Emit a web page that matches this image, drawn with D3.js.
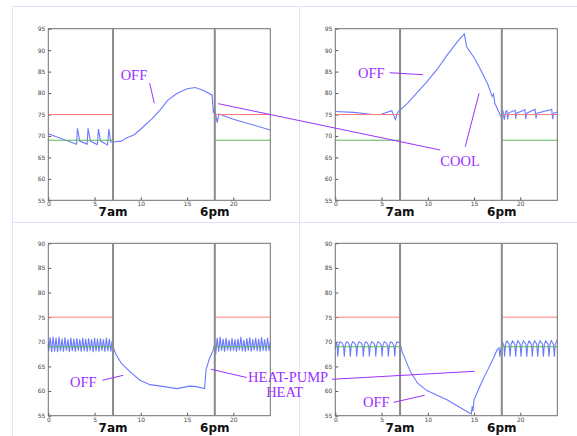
<!DOCTYPE html>
<html>
<head>
<meta charset="utf-8">
<style>
    body { margin: 0; background: #fff; }
    svg { display: block; }
    .tick text { font-family: 'DejaVu Sans', sans-serif; font-size: 6px; fill: #444; }
    .tick line { stroke: #555; }
    .domain { display: none; }
    .frame { fill: none; stroke: #707070; stroke-width: 1; }
    .page-edge { stroke: #e2e2fb; stroke-width: 1; }
    .hour-mark { stroke: #8a8a8a; stroke-width: 2; }
    .hour-label { font-family: 'DejaVu Sans', sans-serif; font-weight: bold; font-size: 12px; fill: #111; text-anchor: middle; }
    .note { font-family: 'Liberation Serif', 'Times New Roman', serif; font-size: 14.5px; fill: #9b30ff; }
    .pointer { stroke: #9b30ff; stroke-width: 1; }
    .temp { fill: none; stroke: #6b7bff; stroke-width: 1.1; }
</style>
</head>
<body>
<svg width="577" height="436"></svg>
<script src="https://d3js.org/d3.v7.min.js"></script>
<script>
    // axis ticks and markers
    let hourTicks = [0, 5, 10, 15, 20];
    let coolTicks = [55, 60, 65, 70, 75, 80, 85, 90, 95];
    let heatTicks = [55, 60, 65, 70, 75, 80, 85, 90];
    let markHours = [7, 18];
    let markLabels = ["7am", "6pm"];
    let homeSpans = [[0, 7], [18, 24]];
    let coolSetpoint = 75; // red
    let heatSetpoint = 69; // green

    // indoor temperature, [hour, degF]
    let tempA = [
        [0, 70.5], [3.05, 68.05], [3.15, 71.8], [3.4, 68.8], [4.2, 68.1], [4.3, 71.8], [4.55, 68.8],
        [5.3, 68.0], [5.42, 71.6], [5.65, 68.8], [6.4, 67.9], [6.55, 71.6], [6.75, 68.6], [7, 68.6],
        [7.9, 68.8], [8.5, 69.6], [9.3, 70.3], [10.3, 72.2], [11.2, 74.0], [12.1, 76.1], [12.9, 78.3],
        [13.9, 79.9], [15, 81.0], [15.9, 81.3], [16.8, 80.6], [17.7, 79.5], [17.85, 75.3], [17.95, 76.3],
        [18.05, 75.6], [18.25, 73.1], [18.45, 75.1], [20, 73.9], [24, 71.4]
    ];
    let tempB = [
        [0, 75.7], [2, 75.5], [3.8, 75.05], [4.9, 75.0], [6.1, 75.9], [6.5, 73.8], [6.65, 75.0], [6.8, 75.6],
        [7, 76.0], [7.8, 77.6], [8.6, 79.5], [9.9, 82.6], [11, 85.5], [12.1, 88.9], [13.4, 92.5],
        [13.95, 93.8], [14.2, 90.8], [15, 88.3], [15.7, 85.5], [16.5, 82.0], [16.95, 79.2], [17.1, 79.8],
        [17.25, 77.6], [17.95, 74.3], [18.1, 76.0], [18.27, 73.8], [18.4, 75.6], [18.55, 75.9],
        [18.63, 73.9], [18.75, 75.4], [19.45, 76.0], [19.5, 74.0], [19.6, 75.3], [20.5, 76.1],
        [20.58, 74.0], [20.7, 75.3], [21.6, 76.2], [21.7, 74.1], [21.8, 75.3], [23.4, 76.2],
        [23.5, 73.9], [23.6, 75.3], [24, 75.6]
    ];
    let tempC = [
        [0, 69.6], [0.04, 68.1], [0.2, 70.9], [0.36, 67.9], [0.52, 71.0], [0.68, 68.0], [0.84, 70.8],
        [1.0, 67.9], [1.16, 71.0], [1.32, 68.1], [1.48, 70.6], [1.64, 68.0], [1.8, 70.9], [1.96, 68.2],
        [2.12, 70.5], [2.28, 67.9], [2.44, 70.8], [2.6, 68.1], [2.76, 70.6], [2.92, 68.0], [3.08, 70.7],
        [3.24, 68.2], [3.4, 70.5], [3.56, 68.0], [3.72, 70.8], [3.88, 68.1], [4.04, 70.6], [4.2, 68.0],
        [4.36, 70.7], [4.52, 68.2], [4.68, 70.5], [4.84, 67.9], [5.0, 70.8], [5.16, 68.1], [5.32, 70.6],
        [5.48, 68.0], [5.64, 70.7], [5.8, 68.2], [5.96, 70.5], [6.12, 68.0], [6.28, 70.8], [6.44, 68.1],
        [6.6, 70.6], [6.76, 68.0], [6.9, 70.2], [7.0, 69.0],
        [7.3, 67.5], [7.9, 65.6], [8.8, 64.0], [9.9, 62.2], [11, 61.3], [12.5, 60.9], [13.9, 60.5],
        [15.3, 61.0], [16, 60.9], [16.9, 60.5], [17.05, 64.3], [17.4, 66.5], [17.8, 68.2], [18.0, 69.6],
        [18.1, 67.5], [18.26, 70.8], [18.42, 68.0], [18.58, 71.0], [18.74, 68.2], [18.9, 70.6],
        [19.06, 68.0], [19.22, 70.8], [19.38, 68.3], [19.54, 70.4], [19.7, 68.1], [19.86, 70.7],
        [20.02, 68.2], [20.18, 70.5], [20.34, 68.0], [20.5, 70.6], [20.66, 68.3], [20.82, 71.0],
        [20.98, 68.1], [21.14, 70.4], [21.3, 68.0], [21.46, 70.7], [21.62, 68.2], [21.78, 70.9],
        [21.94, 68.0], [22.1, 70.5], [22.26, 68.3], [22.42, 70.8], [22.58, 68.1], [22.74, 70.6],
        [22.9, 68.0], [23.06, 70.9], [23.22, 68.2], [23.38, 70.5], [23.54, 68.1], [23.7, 70.8],
        [23.86, 68.2], [24, 70.0]
    ];
    let tempD = [
        [0, 68.6], [0.1, 69.9], [0.2, 69.3], [0.26, 67.0], [0.36, 69.3], [0.5, 70.0], [0.72, 69.8], [0.9, 69.1],
        [0.97, 67.0], [1.07, 69.3], [1.22, 70.0], [1.4, 69.8], [1.56, 69.1], [1.62, 67.0], [1.72, 69.3],
        [1.87, 70.0], [2.08, 69.8], [2.25, 69.1], [2.31, 67.0], [2.41, 69.3], [2.56, 70.0], [2.78, 69.8],
        [2.96, 69.1], [3.03, 67.0], [3.13, 69.3], [3.28, 70.0], [3.46, 69.8], [3.62, 69.1], [3.68, 67.0],
        [3.78, 69.3], [3.93, 70.0], [4.14, 69.8], [4.31, 69.1], [4.37, 67.0], [4.47, 69.3], [4.62, 70.0],
        [4.82, 69.8], [4.99, 69.1], [5.05, 67.0], [5.15, 69.3], [5.3, 70.0], [5.5, 69.8], [5.67, 69.1],
        [5.73, 67.0], [5.83, 69.3], [5.98, 70.0], [6.18, 69.8], [6.36, 69.1], [6.42, 67.0], [6.52, 69.3],
        [6.67, 70.0], [6.87, 69.8], [7.0, 69.8],
        [7.2, 68.1], [8.1, 64.0], [8.9, 61.6], [9.9, 60.1], [12.07, 58.25], [14.5, 55.55], [14.7, 55.35],
        [14.8, 56.9], [14.88, 55.9], [15.0, 58.25], [15.7, 61.3], [16.4, 64.0], [17.1, 66.7], [17.5, 68.4],
        [17.7, 68.75], [17.78, 67.0], [17.9, 68.6], [18.0, 69.4], [18.1, 69.8], [18.24, 69.2],
        [18.3, 67.0], [18.4, 69.5], [18.55, 70.2], [18.8, 69.5], [18.9, 67.0], [19.0, 69.5], [19.15, 70.2],
        [19.4, 69.5], [19.5, 67.0], [19.6, 69.5], [19.75, 70.2], [19.98, 69.5], [20.08, 67.0], [20.18, 69.5],
        [20.33, 70.2], [20.6, 69.5], [20.7, 67.0], [20.8, 69.5], [20.95, 70.2], [21.2, 69.5], [21.3, 67.0],
        [21.4, 69.5], [21.55, 70.2], [21.78, 69.5], [21.88, 67.0], [21.98, 69.5], [22.13, 70.2], [22.4, 69.5],
        [22.5, 67.0], [22.6, 69.5], [22.75, 70.2], [23.0, 69.5], [23.1, 67.0], [23.2, 69.5], [23.35, 70.2],
        [23.58, 69.5], [23.68, 67.0], [23.78, 69.5], [23.93, 70.2], [24, 70.0]
    ];

    let svg = d3.select("svg");

    // faint page edges from the screenshot
    svg.append("line").attr("class", "page-edge").attr("x1", 12).attr("x2", 577).attr("y1", 6.5).attr("y2", 6.5);
    svg.append("line").attr("class", "page-edge").attr("x1", 12).attr("x2", 577).attr("y1", 222.5).attr("y2", 222.5);
    svg.append("line").attr("class", "page-edge").attr("x1", 12.5).attr("x2", 12.5).attr("y1", 6.5).attr("y2", 436);
    svg.append("line").attr("class", "page-edge").attr("x1", 299.5).attr("x2", 299.5).attr("y1", 6.5).attr("y2", 436);

    let panelW = 222;
    let panels = [
        { left: 48.3, top: 28.7, height: 171.6, yMax: 95, ticks: coolTicks, data: tempA },
        { left: 335.3, top: 28.7, height: 171.6, yMax: 95, ticks: coolTicks, data: tempB },
        { left: 48.3, top: 243.3, height: 172.4, yMax: 90, ticks: heatTicks, data: tempC },
        { left: 335.3, top: 243.3, height: 172.4, yMax: 90, ticks: heatTicks, data: tempD }
    ];

    panels.forEach(p => {
        p.x = d3.scaleLinear().domain([0, 24]).range([p.left, p.left + panelW]);
        p.y = d3.scaleLinear().domain([55, p.yMax]).range([p.top + p.height, p.top]);
        let g = svg.append("g");

        g.append("g")
            .attr("class", "x axis")
            .attr("transform", `translate(0,${p.top + p.height})`)
            .call(d3.axisBottom(p.x).tickValues(hourTicks).tickSize(-3).tickPadding(3))
            .call(a => a.selectAll("text").attr("dy", "0.5em"));

        g.append("g")
            .attr("class", "y axis")
            .attr("transform", `translate(${p.left},0)`)
            .call(d3.axisLeft(p.y).tickValues(p.ticks).tickSize(-3).tickPadding(3));

        let line = d3.line().x(d => p.x(d[0])).y(d => p.y(d[1]));

        g.append("path")
            .attr("class", "temp")
            .attr("d", line(p.data));

        homeSpans.forEach(s => {
            g.append("line")
                .attr("x1", p.x(s[0])).attr("x2", p.x(s[1]))
                .attr("y1", p.y(coolSetpoint)).attr("y2", p.y(coolSetpoint))
                .attr("stroke", "#ff7b7b").attr("stroke-width", 1);
            g.append("line")
                .attr("x1", p.x(s[0])).attr("x2", p.x(s[1]))
                .attr("y1", p.y(heatSetpoint)).attr("y2", p.y(heatSetpoint))
                .attr("stroke", "#5cb85c").attr("stroke-width", 1);
        });

        g.append("rect")
            .attr("class", "frame")
            .attr("x", p.left).attr("y", p.top)
            .attr("width", panelW).attr("height", p.height);

        markHours.forEach((h, i) => {
            g.append("line")
                .attr("class", "hour-mark")
                .attr("x1", p.x(h)).attr("x2", p.x(h))
                .attr("y1", p.top).attr("y2", p.top + p.height);
            g.append("text")
                .attr("class", "hour-label")
                .attr("x", p.x(h))
                .attr("y", p.top + p.height + 16)
                .text(markLabels[i]);
        });
    });

    // annotations, in each panel's own hour / degree units
    let notes = [
        { panel: 0, h: 7.82, v: 83.0, text: "OFF" },
        { panel: 1, h: 2.45, v: 83.4, text: "OFF" },
        { panel: 1, h: 11.35, v: 62.9, text: "COOL" },
        { panel: 2, h: 2.35, v: 60.9, text: "OFF" },
        { panel: 3, h: 2.99, v: 56.8, text: "OFF" },
        { panel: 2, h: 21.6, v: 61.85, text: "HEAT-PUMP" },
        { panel: 2, h: 23.55, v: 58.8, text: "HEAT" }
    ];
    let pointers = [
        [[0, 10.96, 82.27], [0, 11.46, 77.61]],
        [[0, 18.38, 77.52], [1, 11.35, 66.72]],
        [[1, 14.05, 67.49], [1, 15.54, 79.94]],
        [[1, 5.88, 84.74], [1, 9.48, 84.27]],
        [[2, 5.84, 62.19], [2, 8.1, 63.2]],
        [[2, 21.45, 62.75], [2, 17.59, 64.43]],
        [[3, -0.36, 62.39], [3, 15.07, 64.02]],
        [[3, 6.31, 57.72], [3, 9.66, 59.14]]
    ];

    pointers.forEach(([a, b]) => {
        svg.append("line")
            .attr("class", "pointer")
            .attr("x1", panels[a[0]].x(a[1])).attr("y1", panels[a[0]].y(a[2]))
            .attr("x2", panels[b[0]].x(b[1])).attr("y2", panels[b[0]].y(b[2]));
    });

    notes.forEach(n => {
        svg.append("text")
            .attr("class", "note")
            .attr("x", panels[n.panel].x(n.h))
            .attr("y", panels[n.panel].y(n.v))
            .text(n.text);
    });
</script>
</body>
</html>
